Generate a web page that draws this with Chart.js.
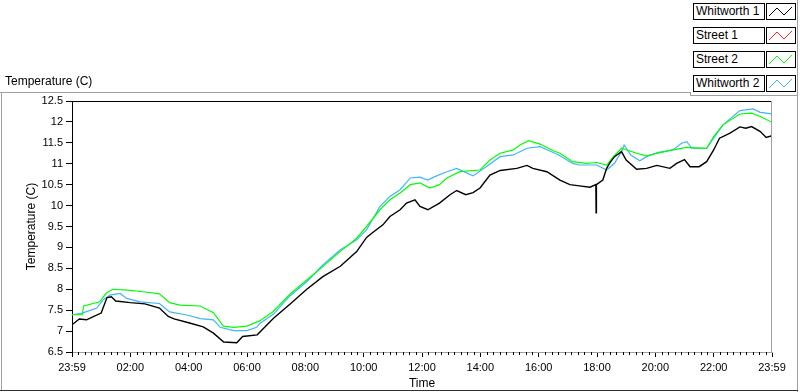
<!DOCTYPE html>
<html>
<head>
<meta charset="utf-8">
<script src="https://cdn.jsdelivr.net/npm/chart.js@4.4.0/dist/chart.umd.min.js"></script>
<style>
  body { margin: 0; background: #fff; }
  #wrap { position: relative; width: 800px; height: 392px; overflow: hidden; font-family: "Liberation Sans", Arial, sans-serif; }
  #chart { position: absolute; left: 0; top: 0; }
  .ln { position: absolute; background: #a0a0a0; }
  #plotName { position: absolute; left: 5px; top: 74px; font-size: 12px; color: #000; }
  .legName { position: absolute; left: 693px; width: 68px; height: 15px; border: 1px solid #000; background: #fff;
             font-size: 12px; line-height: 15px; padding-left: 2px; box-sizing: content-box; white-space: nowrap; }
  .legIcon { position: absolute; left: 766px; width: 28px; height: 15px; border: 1px solid #000; background: #fff; }
</style>
</head>
<body>
<div id="wrap">
  <canvas id="chart" width="800" height="392"></canvas>
  <div id="plotName">Temperature (C)</div>
  <div class="ln" style="left:0;top:92px;width:690px;height:1px"></div>
  <div class="ln" style="left:690px;top:92px;width:1px;height:4px"></div>
  <div class="ln" style="left:690px;top:95px;width:108px;height:1px"></div>
  <div class="ln" style="left:797px;top:0;width:1px;height:392px"></div>
  <div class="ln" style="left:1px;top:92px;width:1px;height:299px"></div>
  <div class="ln" style="left:0;top:390px;width:798px;height:1px;background:#303030"></div>
  <div id="legend"></div>
</div>

<script>
// ---------- data (hours after 23:59, temperature in C) ----------
const seriesNames = ['Whitworth 1', 'Street 1', 'Street 2', 'Whitworth 2'];
const seriesColors = ['#000000', '#ff2020', '#00ff00', '#40b4ff'];

const tickHours = [0, 2, 4, 6, 8, 10, 12, 14, 16, 18, 20, 22, 24];
const tickLabels = ['23:59', '02:00', '04:00', '06:00', '08:00', '10:00', '12:00',
                    '14:00', '16:00', '18:00', '20:00', '22:00', '23:59'];

// Whitworth 1 (black)
const w1Hours = [0, 0.25, 0.5, 0.75, 1.0, 1.2, 1.35, 1.5, 2.0, 2.5, 3.0, 3.3, 3.5, 4.0, 4.5, 4.85,
  5.2, 5.65, 5.85, 6.35, 6.9, 7.5, 8.05, 8.6, 9.2, 9.76, 10.1, 10.3, 10.66, 10.9, 11.25, 11.47,
  11.76, 11.93, 12.2, 12.6, 12.96, 13.19, 13.5, 13.75, 13.99, 14.33, 14.68, 15.25, 15.6, 15.8,
  16.28, 16.73, 17.07, 17.4, 17.76, 17.96, 17.97, 17.98, 18.2, 18.33, 18.44, 18.6, 18.84, 19.0,
  19.36, 19.7, 20.05, 20.5, 20.73, 21.0, 21.19, 21.5, 21.76, 22.0, 22.2, 22.56, 22.9, 23.1,
  23.3, 23.6, 23.8, 24.0];
const w1Temps = [7.15, 7.29, 7.27, 7.35, 7.43, 7.80, 7.82, 7.72, 7.68, 7.65, 7.55, 7.35, 7.29, 7.20, 7.10, 6.95,
  6.74, 6.72, 6.87, 6.91, 7.30, 7.66, 8.00, 8.30, 8.55, 8.90, 9.24, 9.35, 9.54, 9.74, 9.90, 10.06,
  10.14, 9.98, 9.90, 10.06, 10.26, 10.36, 10.26, 10.31, 10.42, 10.73, 10.84, 10.89, 10.96, 10.89,
  10.81, 10.61, 10.50, 10.47, 10.44, 10.50, 9.83, 10.50, 10.61, 10.89, 11.02, 11.17, 11.29, 11.09,
  10.87, 10.89, 10.96, 10.89, 11.01, 11.10, 10.93, 10.93, 11.05, 11.33, 11.61, 11.73, 11.88, 11.85,
  11.89, 11.77, 11.63, 11.67];

// Street 1 (red) - no samples visible
const s1Hours = [];
const s1Temps = [];

// Street 2 (green)
const s2Hours = [0, 0.35, 0.4, 0.95, 1.18, 1.4, 1.9, 2.45, 3.0, 3.35, 3.7, 4.4, 4.85, 5.19, 5.55, 6.0,
  6.45, 6.9, 7.47, 8.05, 8.6, 9.19, 9.76, 10.1, 10.56, 10.9, 11.25, 11.6, 11.93, 12.27, 12.6, 12.85,
  13.3, 13.99, 14.33, 14.68, 15.13, 15.36, 15.65, 16.05, 16.5, 16.73, 17.17, 17.64, 17.99, 18.33,
  18.56, 18.84, 19.36, 19.7, 20.05, 20.6, 21.07, 21.76, 22.0, 22.32, 22.9, 23.3, 23.6, 24.0];
const s2Temps = [7.39, 7.39, 7.60, 7.70, 7.91, 8.00, 7.98, 7.94, 7.89, 7.68, 7.62, 7.60, 7.44, 7.12, 7.09, 7.12,
  7.25, 7.47, 7.88, 8.22, 8.54, 8.90, 9.22, 9.50, 9.90, 10.14, 10.30, 10.50, 10.54, 10.42, 10.50, 10.66,
  10.81, 10.85, 11.09, 11.25, 11.33, 11.45, 11.55, 11.47, 11.31, 11.25, 11.05, 11.01, 11.03, 10.97,
  11.17, 11.37, 11.25, 11.19, 11.25, 11.33, 11.39, 11.37, 11.65, 11.93, 12.19, 12.21, 12.13, 11.99];

// Whitworth 2 (blue)
const w2Hours = [0, 0.35, 0.85, 1.06, 1.3, 1.65, 1.88, 2.33, 3.0, 3.35, 3.9, 4.4, 4.85, 5.08, 5.55, 6.0,
  6.33, 6.45, 6.9, 7.47, 8.05, 8.6, 9.19, 9.76, 10.1, 10.56, 10.9, 11.25, 11.6, 11.93, 12.2, 12.4,
  12.85, 13.19, 13.75, 14.2, 14.68, 15.13, 15.6, 16.05, 16.5, 16.73, 17.17, 17.4, 17.99, 18.33,
  18.6, 18.84, 18.93, 19.16, 19.47, 19.7, 20.1, 20.6, 20.9, 21.08, 21.25, 21.76, 22.0, 22.32,
  22.9, 23.35, 23.6, 24.0];
const w2Temps = [7.39, 7.43, 7.55, 7.74, 7.86, 7.90, 7.78, 7.70, 7.66, 7.46, 7.39, 7.30, 7.27, 7.09, 7.01, 7.01,
  7.09, 7.19, 7.40, 7.84, 8.18, 8.58, 8.94, 9.18, 9.42, 9.98, 10.22, 10.38, 10.66, 10.68, 10.61, 10.68,
  10.81, 10.89, 10.71, 10.93, 11.17, 11.21, 11.37, 11.41, 11.27, 11.19, 11.01, 10.97, 10.97, 10.85,
  11.01, 11.29, 11.45, 11.21, 11.07, 11.17, 11.27, 11.33, 11.49, 11.53, 11.37, 11.37, 11.61, 11.93,
  12.27, 12.31, 12.23, 12.19];

const seriesHours = [w1Hours, s1Hours, s2Hours, w2Hours];
const seriesTemps = [w1Temps, s1Temps, s2Temps, w2Temps];

// ---------- legend (LabVIEW style name box + line icon) ----------
const legend = document.getElementById('legend');
seriesNames.forEach((name, i) => {
  const top = 3 + i * 24;
  const nameBox = document.createElement('div');
  nameBox.className = 'legName';
  nameBox.style.top = top + 'px';
  nameBox.textContent = name;
  legend.appendChild(nameBox);

  const icon = document.createElement('div');
  icon.className = 'legIcon';
  icon.style.top = top + 'px';
  icon.innerHTML = '<svg width="28" height="15"><polyline points="2,12 10,4 17,11 25,3" fill="none" stroke="' +
    seriesColors[i] + '" stroke-width="1"/></svg>';
  legend.appendChild(icon);
});

// ---------- plot frame + minor ticks ----------
const framePlugin = {
  id: 'frame',
  afterDraw(chart) {
    const { ctx, chartArea: a, scales: { x } } = chart;
    ctx.save();
    ctx.lineWidth = 1;
    ctx.strokeStyle = '#000';
    ctx.beginPath();
    ctx.moveTo(a.left, a.top + 0.5);
    ctx.lineTo(a.right, a.top + 0.5);
    ctx.stroke();
    ctx.strokeStyle = '#a0a0a0';
    ctx.beginPath();
    ctx.moveTo(a.right - 0.5, a.top);
    ctx.lineTo(a.right - 0.5, a.bottom);
    ctx.stroke();
    // minor ticks between the labelled ones
    ctx.strokeStyle = '#000';
    ctx.beginPath();
    for (let i = 0; i < tickHours.length - 1; i++) {
      const step = (tickHours[i + 1] - tickHours[i]) / 9;
      for (let k = 1; k < 9; k++) {
        const px = Math.round(x.getPixelForValue(tickHours[i] + k * step)) + 0.5;
        ctx.moveTo(px, a.bottom);
        ctx.lineTo(px, a.bottom + 3);
      }
    }
    ctx.stroke();
    ctx.restore();
  }
};

// ---------- chart ----------
Chart.defaults.font.family = '"Liberation Sans", Arial, sans-serif';
Chart.defaults.color = '#000';

const datasets = seriesNames.map((name, i) => ({
  label: name,
  data: seriesHours[i].map((h, j) => ({ x: h, y: seriesTemps[i][j] })),
  borderColor: seriesColors[i],
  borderWidth: i === 0 ? 1.4 : 1.2,
  pointRadius: 0,
  tension: 0,
  fill: false
}));

new Chart(document.getElementById('chart'), {
  type: 'line',
  data: { datasets },
  plugins: [framePlugin],
  options: {
    responsive: false,
    animation: false,
    layout: { padding: { left: 0, top: 101, right: 28, bottom: 0 } },
    plugins: { legend: { display: false }, tooltip: { enabled: false } },
    scales: {
      x: {
        type: 'linear',
        min: 0,
        max: 24,
        afterBuildTicks: s => { s.ticks = tickHours.map(v => ({ value: v })); },
        afterFit: s => { s.height = 40; },
        ticks: {
          autoSkip: false, maxRotation: 0, padding: 4,
          font: { size: 11 },
          callback: (v, i) => tickLabels[i]
        },
        grid: { drawOnChartArea: false, drawTicks: true, tickLength: 5, tickColor: '#000' },
        border: { display: true, color: '#a0a0a0' },
        title: { display: true, text: 'Time', font: { size: 12 }, padding: { top: 0, bottom: 1 } }
      },
      y: {
        min: 6.5,
        max: 12.5,
        afterFit: s => { s.width = 72; },
        ticks: { stepSize: 0.5, padding: 3, font: { size: 11 }, callback: v => String(v) },
        grid: { drawOnChartArea: false, drawTicks: true, tickLength: 6, tickColor: '#000' },
        border: { display: true, color: '#000' },
        title: { display: true, text: 'Temperature (C)', font: { size: 12 }, padding: { top: 24, bottom: 0 } }
      }
    }
  }
});
</script>
</body>
</html>
